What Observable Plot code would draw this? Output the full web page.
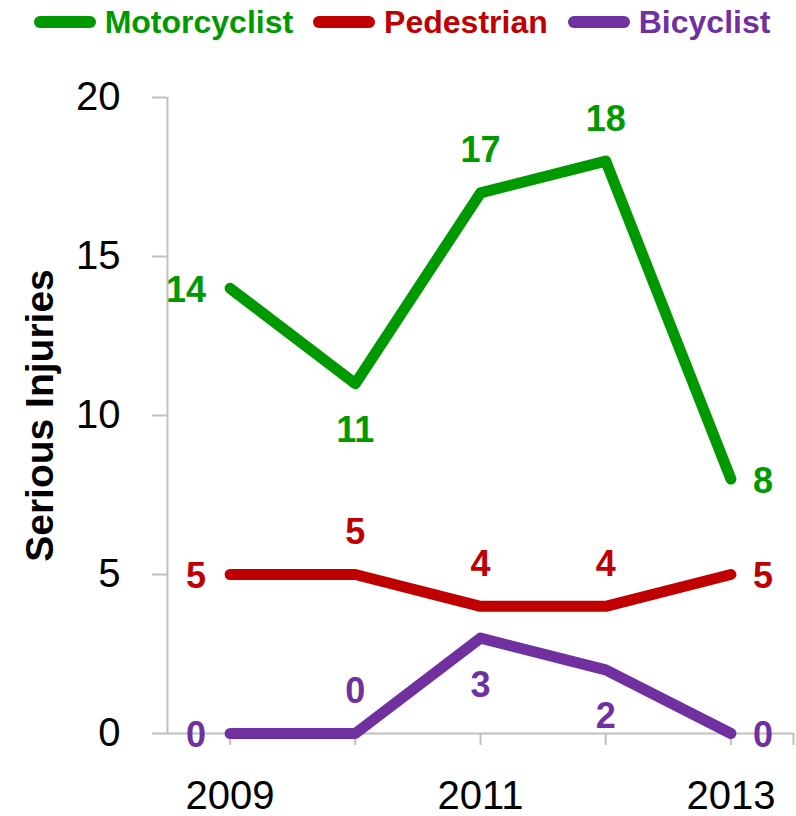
<!DOCTYPE html>
<html>
<head>
<meta charset="utf-8">
<script src="https://cdn.jsdelivr.net/npm/d3@7"></script>
<script src="https://cdn.jsdelivr.net/npm/@observablehq/plot@0.6"></script>
<style>
  body { margin: 0; background: #fff; font-family: "Liberation Sans", Arial, sans-serif; }
  #legend { height: 44px; display: flex; justify-content: center; align-items: center; gap: 20px; padding-left: 8px; }
  .item { display: flex; align-items: center; gap: 9px; font-weight: bold; font-size: 32px; }
  .sw { width: 62px; height: 12px; border-radius: 6px; }
</style>
</head>
<body>
<div id="legend"></div>
<div id="chart"></div>
<script>
const years = [2009, 2010, 2011, 2012, 2013];
const motorcyclist = [14, 11, 17, 18, 8];
const pedestrian = [5, 5, 4, 4, 5];
const bicyclist = [0, 0, 3, 2, 0];
const seriesNames = ["Motorcyclist", "Pedestrian", "Bicyclist"];
const seriesColors = ["#009900", "#C00000", "#7030A0"];
const yTicks = [0, 5, 10, 15, 20];
const xTickLabels = ["2009", "2011", "2013"];
const yTitle = "Serious Injuries";

// label placement per point (style)
const placement = {
  Motorcyclist: ["left", "below", "above", "above", "right"],
  Pedestrian: ["left", "above", "above", "above", "right"],
  Bicyclist: ["left", "above", "below", "below", "right"]
};

const seriesValues = [motorcyclist, pedestrian, bicyclist];
const table = [];
seriesNames.forEach((s, i) => {
  years.forEach((yr, j) => {
    table.push({ series: s, year: yr, value: seriesValues[i][j], pos: placement[s][j] });
  });
});

// legend
const legend = document.getElementById("legend");
seriesNames.forEach((s, i) => {
  const it = document.createElement("div");
  it.className = "item";
  it.style.color = seriesColors[i];
  const sw = document.createElement("div");
  sw.className = "sw";
  sw.style.background = seriesColors[i];
  const t = document.createElement("span");
  t.textContent = s;
  it.appendChild(sw);
  it.appendChild(t);
  legend.appendChild(it);
});

const axisGray = "#c0c0c0";
const xTicks = years.concat([years[years.length - 1] + 0.5]);
const labelOpts = (pos) => {
  const base = { x: "year", y: "value", text: d => String(d.value), fill: "series", fontWeight: "bold", fontSize: 36 };
  if (pos === "left") return { ...base, textAnchor: "end", dx: -24, dy: 2 };
  if (pos === "right") return { ...base, textAnchor: "start", dx: 22, dy: 2 };
  if (pos === "above") return { ...base, dy: -42 };
  return { ...base, dy: 47 };
};

const chart = Plot.plot({
  width: 796,
  height: 772,
  marginLeft: 167,
  marginRight: 3,
  marginTop: 53,
  marginBottom: 83,
  style: { fontFamily: "'Liberation Sans', Arial, sans-serif", background: "#fff", overflow: "visible" },
  x: { domain: [years[0] - 0.5, years[years.length - 1] + 0.5] },
  y: { domain: [0, 20] },
  color: { domain: seriesNames, range: seriesColors },
  marks: [
    Plot.ruleX([years[0] - 0.5], { stroke: axisGray, strokeWidth: 2 }),
    Plot.ruleY([0], { x1: years[0] - 0.5, x2: years[years.length - 1] + 0.5, stroke: axisGray, strokeWidth: 2 }),
    Plot.axisY({ ticks: yTicks, tickSize: 15, tickPadding: 32, fontSize: 40, stroke: axisGray, strokeWidth: 2, label: null, fill: "#000" }),
    Plot.axisX({ ticks: xTicks, tickSize: 12, tickPadding: 35, fontSize: 40, stroke: axisGray, strokeWidth: 2, label: null, fill: "#000",
      tickFormat: d => xTickLabels.includes(String(d)) ? String(d) : "" }),
    Plot.text([yTitle], { frameAnchor: "left", textAnchor: "middle", dx: -127, rotate: -90, fontSize: 39, fontWeight: "bold", fill: "#000" }),
    Plot.line(table, { x: "year", y: "value", z: "series", stroke: "series", strokeWidth: 11, strokeLinecap: "round", strokeLinejoin: "round" }),
    ...["left", "right", "above", "below"].map(p => Plot.text(table.filter(d => d.pos === p), labelOpts(p)))
  ]
});
document.getElementById("chart").appendChild(chart);
</script>
</body>
</html>
